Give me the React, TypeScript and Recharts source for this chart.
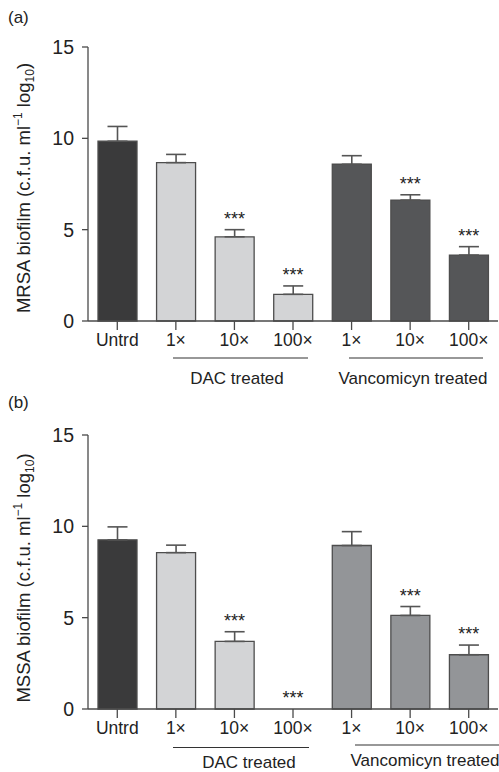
import React from 'react';
import {
  ComposedChart,
  Bar,
  Line,
  XAxis,
  YAxis,
  ErrorBar,
  Cell,
  LabelList,
} from 'recharts';

// categories along the x axis (ids are unique, labels repeat)
const categoryIds = ['untrd', 'dac1', 'dac10', 'dac100', 'van1', 'van10', 'van100'];
const categoryLabels = ['Untrd', '1×', '10×', '100×', '1×', '10×', '100×'];
const categoryGroups = ['untrd', 'dac', 'dac', 'dac', 'van', 'van', 'van'];
const yTicks = [0, 5, 10, 15];

// panel (a) MRSA
const mrsaMeans = [9.84, 8.67, 4.61, 1.46, 8.58, 6.62, 3.61];
const mrsaErrors = [0.81, 0.45, 0.39, 0.46, 0.47, 0.29, 0.46];
const mrsaSignificant = [false, false, true, true, false, true, true];

// panel (b) MSSA
const mssaMeans = [9.26, 8.56, 3.7, 0, 8.95, 5.12, 2.97];
const mssaErrors = [0.71, 0.41, 0.53, 0, 0.76, 0.49, 0.53];
const mssaSignificant = [false, false, true, true, false, true, true];

const FONT = '"Liberation Sans", Arial, Helvetica, sans-serif';
const AXIS = '#4a4a4a';
const TEXT = '#222';

const buildRows = (means: number[], errors: number[], sig: boolean[]) =>
  categoryIds.map((id, i) => ({
    id,
    mean: means[i],
    errRange: [0, errors[i]],
    starAt: sig[i] ? means[i] + errors[i] : null,
  }));

const labelFor = (id: string) => categoryLabels[categoryIds.indexOf(id)] ?? id;

const Stars = (props: any) => {
  const { x, y, value } = props;
  if (value == null || x == null || y == null) return null;
  return (
    <text x={x} y={y - 5} textAnchor="middle" fontSize={18} fill={TEXT}>
      ***
    </text>
  );
};

const AxisTitle = ({ name }: { name: string }) => (
  <text
    transform="rotate(-90)"
    x={-188}
    y={30}
    textAnchor="middle"
    fontSize={18.5}
    fill={TEXT}
  >
    {name} biofilm (c.f.u. ml
    <tspan dy={-8} fontSize={12}>−1</tspan>
    <tspan dy={8}> log</tspan>
    <tspan dy={4} fontSize={12}>10</tspan>
    <tspan dy={-4}>)</tspan>
  </text>
);

interface PanelProps {
  means: number[];
  errors: number[];
  sig: boolean[];
  vanColor: string;
  height: number;
  top: number;
  bottom: number;
  name: string;
}

function Panel({ means, errors, sig, vanColor, height, top, bottom, name }: PanelProps) {
  const rows = buildRows(means, errors, sig);
  const colors: Record<string, string> = {
    untrd: '#3a3a3b',
    dac: '#d3d4d6',
    van: vanColor,
  };
  return (
    <ComposedChart
      width={499}
      height={height}
      data={rows}
      margin={{ top, right: 1, left: 0, bottom }}
    >
      <XAxis
        dataKey="id"
        tickFormatter={labelFor}
        interval={0}
        height={30}
        stroke={AXIS}
        strokeWidth={1.3}
        tickSize={9}
        tickMargin={4}
        tick={{ fontSize: 17.5, fill: TEXT }}
      />
      <YAxis
        domain={[0, 15]}
        ticks={yTicks}
        width={88}
        stroke={AXIS}
        strokeWidth={1.3}
        tickSize={6}
        tickMargin={8}
        tick={{ fontSize: 19.5, fill: TEXT }}
        label={<AxisTitle name={name} />}
      />
      <Bar
        dataKey="mean"
        barSize={39}
        stroke="#4d4d4d"
        strokeWidth={1.3}
        isAnimationActive={false}
      >
        {rows.map((r, i) => (
          <Cell key={r.id} fill={colors[categoryGroups[i]]} />
        ))}
        <ErrorBar dataKey="errRange" width={10} stroke="#555" strokeWidth={1.6} direction="y" />
      </Bar>
      <Line
        dataKey="starAt"
        stroke="none"
        dot={false}
        activeDot={false}
        isAnimationActive={false}
      >
        <LabelList dataKey="starAt" content={<Stars />} />
      </Line>
    </ComposedChart>
  );
}

// group brackets under the x axis labels
const GroupNote = ({ x1, x2, y, text, tx, ty }: any) => (
  <g>
    <line x1={x1} x2={x2} y1={y} y2={y} stroke="#333" strokeWidth={1.2} />
    <text x={tx} y={ty} textAnchor="middle" fontSize={17} fill={TEXT}>
      {text}
    </text>
  </g>
);

export default function App() {
  return (
    <div
      style={{
        position: 'absolute',
        left: 0,
        top: 0,
        width: 499,
        height: 772,
        background: '#fff',
        fontFamily: FONT,
        overflow: 'hidden',
      }}
    >
      <div style={{ position: 'absolute', left: 0, top: 0 }}>
        <Panel
          means={mrsaMeans}
          errors={mrsaErrors}
          sig={mrsaSignificant}
          vanColor="#555658"
          height={390}
          top={47}
          bottom={39}
          name="MRSA"
        />
      </div>
      <div style={{ position: 'absolute', left: 0, top: 390 }}>
        <Panel
          means={mssaMeans}
          errors={mssaErrors}
          sig={mssaSignificant}
          vanColor="#939598"
          height={382}
          top={45}
          bottom={33}
          name="MSSA"
        />
      </div>
      <svg
        width={499}
        height={772}
        style={{ position: 'absolute', left: 0, top: 0, pointerEvents: 'none' }}
      >
        <text x={8} y={23} fontSize={17} fill={TEXT}>(a)</text>
        <text x={8} y={408} fontSize={17} fill={TEXT}>(b)</text>
        <GroupNote x1={173} x2={308} y={358} text="DAC treated" tx={237} ty={384} />
        <GroupNote x1={349} x2={483} y={358} text="Vancomicyn treated" tx={413} ty={384} />
        <GroupNote x1={173} x2={309} y={747.5} text="DAC treated" tx={249} ty={768} />
        <GroupNote x1={355} x2={499} y={745} text="Vancomicyn treated" tx={425} ty={766} />
      </svg>
    </div>
  );
}
